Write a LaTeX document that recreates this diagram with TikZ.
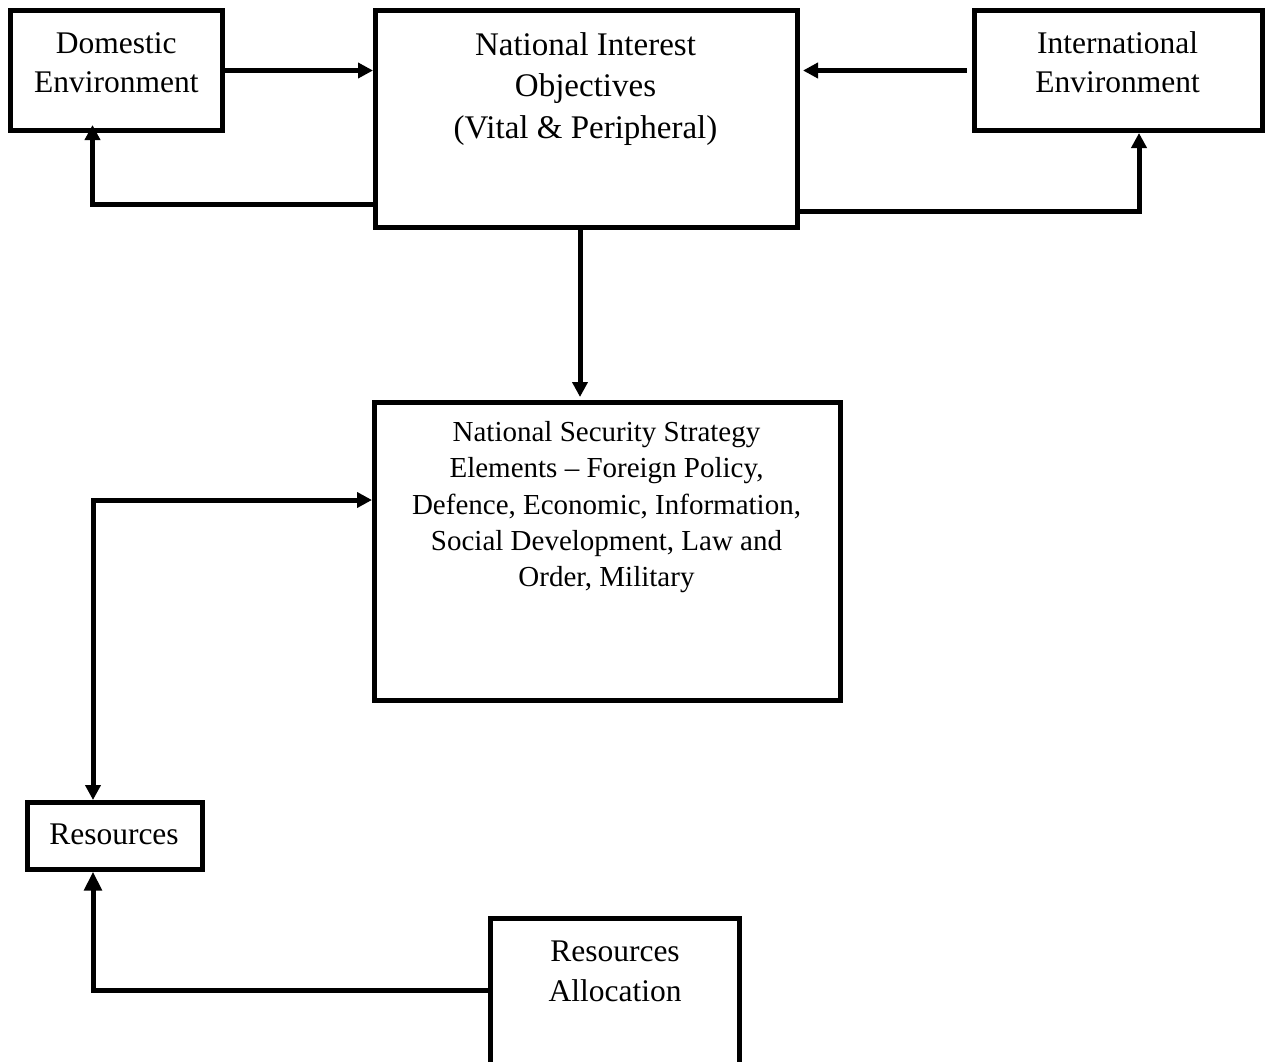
\documentclass[tikz,border=0pt]{standalone}
\usepackage{fontspec}
\setmainfont{Liberation Serif}
\usetikzlibrary{arrows.meta,calc}
\tikzset{
  box/.style={draw=black, line width=5pt, outer sep=2.5pt, inner sep=0pt, fill=white},
  lbl/.style={anchor=base, inner sep=0pt, outer sep=0pt},
  conn/.style={draw=black, line width=5pt, line join=miter, -{Triangle[length=15pt,width=15pt]}},
  bigconn/.style={draw=black, line width=5pt, line join=miter, -{Triangle[length=19pt,width=17pt]}},
  bconn/.style={draw=black, line width=5pt, line join=miter, {Triangle[length=15pt,width=15pt]}-{Triangle[length=15pt,width=15pt]}}
}
\newcommand{\bigtxt}[1]{\fontsize{31.5}{39.5}\selectfont\begin{tabular}[t]{@{}c@{}}#1\end{tabular}}
\newcommand{\niotxt}[1]{\fontsize{33}{41.5}\selectfont\begin{tabular}[t]{@{}c@{}}#1\end{tabular}}
\newcommand{\nsstxt}[1]{\fontsize{29}{36.3}\selectfont\begin{tabular}[t]{@{}c@{}}#1\end{tabular}}
\begin{document}
\begin{tikzpicture}[x=1pt,y=-1pt]
\useasboundingbox[fill=white] (0,0) rectangle (1271,1061);

% boxes
\node[box, minimum width=211.5pt, minimum height=120pt] (dom) at (116.25,70.5) {};
\node[box, minimum width=422pt, minimum height=217pt] (nio) at (586.5,119) {};
\node[box, minimum width=288.5pt, minimum height=120pt] (intl) at (1118.25,70.5) {};
\node[box, minimum width=466pt, minimum height=298pt] (nss) at (607.5,551.5) {};
\node[box, minimum width=175pt, minimum height=66.5pt] (res) at (115,835.75) {};
\node[box, minimum width=249pt, minimum height=180pt] (ra) at (615,1008.5) {};

% labels
\node[lbl] (domt) at (116.25,53) {\bigtxt{Domestic\\Environment}};
\node[lbl] (niot) at (585.5,55) {\niotxt{National Interest\\Objectives\\(Vital \& Peripheral)}};
\node[lbl] (intlt) at (1117.5,53) {\bigtxt{International\\Environment}};
\node[lbl] (nsst) at (606.5,441.5) {\nsstxt{National Security Strategy\\Elements -- Foreign Policy,\\Defence, Economic, Information,\\Social Development, Law and\\Order, Military}};
\node[lbl] (rest) at (114,844) {\bigtxt{Resources}};
\node[lbl] (rat) at (615,961.5) {\bigtxt{Resources\\Allocation}};

% connectors
\draw[conn] (dom.east) -- (dom.east -| nio.west);
\draw[conn, shorten <=5pt, shorten >=3pt] (intl.west) -- (intl.west -| nio.east);
\draw[conn, shorten >=-8pt] ([yshift=-85pt]nio.west) -| ([xshift=-23.75pt]dom.south);
\draw[conn] ([yshift=-92.5pt]nio.east) -| ([xshift=20.75pt]intl.south);
\draw[conn, shorten >=3pt] ([xshift=-6.5pt]nio.south) -- ([xshift=-6.5pt]nio.south |- nss.north);
\draw[bconn] ([yshift=51.5pt]nss.west) -| ([xshift=-22pt]res.north);
\draw[bigconn] ([yshift=18pt]ra.west) -| ([xshift=-22pt]res.south);
\end{tikzpicture}
\end{document}
